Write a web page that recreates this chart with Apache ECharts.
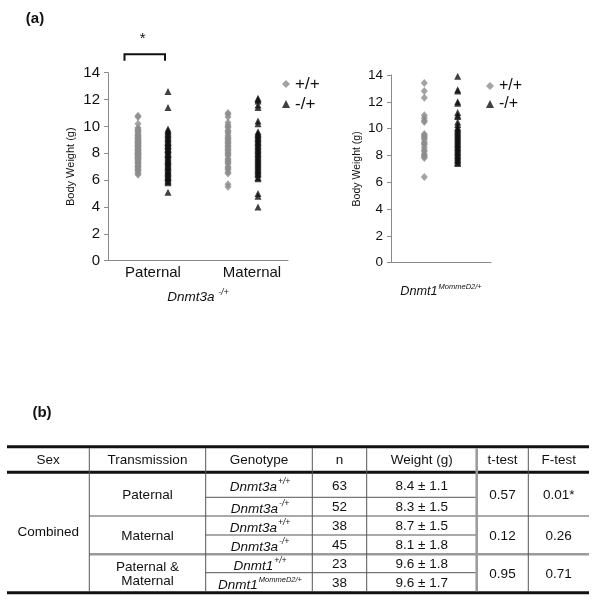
<!DOCTYPE html>
<html><head><meta charset="utf-8">
<script src="https://cdn.jsdelivr.net/npm/echarts@6/dist/echarts.min.js"></script>
<style>html,body{margin:0;padding:0;background:#fff}#c{width:600px;height:605px}</style>
</head><body><div id="c"></div>
<script>
const FONT = "'Liberation Sans', Arial, Helvetica, sans-serif";

// ---------- Panel (a) data ----------
const legendNames = ['+/+', '-/+'];
const leftCategories = ['Paternal', 'Maternal'];
const yTickMax = 14;
const yTickStep = 2;

// Dnmt3a paternal transmission
const paternalWT = [10.8, 10.7, 10.2, 9.9, 9.8, 9.7, 9.6, 9.5, 9.4, 9.3,
  9.2, 9.2, 9.1, 9.0, 9.0, 8.9, 8.9, 8.8, 8.8, 8.7,
  8.7, 8.6, 8.6, 8.5, 8.5, 8.4, 8.4, 8.3, 8.3, 8.2,
  8.2, 8.1, 8.1, 8.0, 8.0, 7.9, 7.9, 7.8, 7.8, 7.7,
  7.7, 7.6, 7.5, 7.5, 7.4, 7.3, 7.3, 7.2, 7.1, 7.0,
  7.0, 6.9, 6.8, 6.8, 6.7, 6.6, 6.5, 6.4, 9.7, 9.3, 8.6, 8.0, 7.6];
const paternalHet = [12.6, 11.4, 9.8, 9.7, 9.6, 9.5, 9.4, 9.2, 9.1, 9.0,
  8.9, 8.8, 8.7, 8.6, 8.5, 8.4, 8.3, 8.2, 8.1, 8.0,
  7.9, 7.8, 7.7, 7.6, 7.5, 7.4, 7.3, 7.2, 7.1, 7.0,
  6.9, 6.8, 6.7, 6.6, 6.5, 6.4, 6.3, 6.2, 6.1, 6.0,
  5.9, 5.8, 5.1, 9.3, 8.8, 8.3, 7.9, 7.4, 7.0, 6.6, 6.2, 8.6];
// Dnmt3a maternal transmission
const maternalWT = [11.0, 10.9, 10.7, 10.1, 10.0, 9.9, 9.7, 9.6, 9.3, 9.2,
  9.0, 8.9, 8.7, 8.6, 8.5, 8.3, 8.2, 8.0, 7.9, 7.8,
  7.6, 7.5, 7.3, 7.2, 7.0, 6.9, 6.8, 6.6, 6.5, 5.7,
  5.5, 9.5, 8.4, 8.1, 7.4, 10.3, 9.1, 8.8];
const maternalHet = [12.1, 12.0, 11.9, 11.6, 11.4, 10.4, 10.2, 9.6, 9.5, 9.4,
  9.3, 9.2, 9.0, 8.9, 8.8, 8.7, 8.6, 8.5, 8.4, 8.3,
  8.2, 8.1, 8.0, 7.9, 7.8, 7.7, 7.6, 7.5, 7.4, 7.3,
  7.2, 7.1, 7.0, 6.9, 6.8, 6.7, 6.6, 6.5, 6.4, 6.2,
  6.1, 5.0, 4.8, 4.0, 9.1];
// Dnmt1 MommeD2
const mommeWT = [13.4, 12.8, 12.3, 11.0, 10.8, 10.6, 10.5, 9.6, 9.5, 9.4,
  9.3, 9.2, 9.0, 8.9, 8.8, 8.6, 8.4, 8.3, 8.1, 8.0, 7.9, 7.8, 6.4];
const mommeHet = [13.9, 12.9, 12.8, 12.0, 11.9, 11.2, 11.0, 10.9, 10.5, 10.3,
  10.1, 10.0, 9.9, 9.8, 9.7, 9.6, 9.5, 9.4, 9.3, 9.2,
  9.1, 9.0, 8.9, 8.8, 8.7, 8.6, 8.5, 8.4, 8.3, 8.2,
  8.1, 8.0, 7.9, 7.8, 7.7, 7.6, 7.5, 7.4];
// significance annotation (x-from, x-to, level) in data units
const sigBracket = [0.55, 1.9, 15.37];
const sigLabel = '*';

// ---------- Panel (b) table data ----------
const tableHeader = ['Sex', 'Transmission', 'Genotype', 'n', 'Weight (g)', 't-test', 'F-test'];
const sexLabel = 'Combined';
const transmission = ['Paternal', 'Maternal', 'Paternal &\nMaternal'];
const genotypeBase = ['Dnmt3a', 'Dnmt3a', 'Dnmt3a', 'Dnmt3a', 'Dnmt1', 'Dnmt1'];
const genotypeSup = ['+/+', '-/+', '+/+', '-/+', '+/+', 'MommeD2/+'];
const nValues = [63, 52, 38, 45, 23, 38];
const weightMean = [8.4, 8.3, 8.7, 8.1, 9.6, 9.6];
const weightSD = [1.1, 1.5, 1.5, 1.8, 1.8, 1.7];
const tTest = ['0.57', '0.12', '0.95'];
const fTest = ['0.01*', '0.26', '0.71'];

// ---------- styles ----------
const GRAY = '#8c8c8c';
const BLACK = '#111111';
const AXIS = '#8a8a8a';

function wtSeries(name, x, vals, gi) {
  return { name, type: 'scatter', xAxisIndex: gi, yAxisIndex: gi,
    data: vals.map(v => [x, v]), symbol: 'diamond', symbolSize: [7, 8],
    itemStyle: { color: GRAY }, silent: true, z: 3 };
}
function hetSeries(name, x, vals, gi) {
  return { name, type: 'scatter', xAxisIndex: gi, yAxisIndex: gi,
    data: vals.map(v => [x, v]), symbol: 'triangle', symbolSize: [7, 7],
    itemStyle: { color: BLACK }, silent: true, z: 4 };
}

function yAxisCfg(gi, labelSize, nameSize, nameGap) {
  return { gridIndex: gi, type: 'value', min: 0, max: yTickMax, interval: yTickStep,
    axisLine: { show: true, lineStyle: { color: AXIS, width: 1 } },
    axisTick: { show: true, inside: false, length: 4, lineStyle: { color: AXIS } },
    splitLine: { show: false },
    axisLabel: { fontSize: labelSize, color: '#111', margin: 8, fontFamily: FONT },
    name: 'Body Weight (g)', nameLocation: 'middle', nameRotate: 90, nameGap: nameGap,
    nameTextStyle: { fontSize: nameSize, color: '#111', fontFamily: FONT } };
}

const supRich = (mainSize, supSize) => ({
  i: { fontStyle: 'italic', fontSize: mainSize, fontFamily: FONT, color: '#111', lineHeight: mainSize + 3, verticalAlign: 'bottom' },
  s: { fontStyle: 'italic', fontSize: supSize, fontFamily: FONT, color: '#111', lineHeight: mainSize + 3, verticalAlign: 'top', padding: [0, 0, 0, 1] }
});

// ---------- table graphic ----------
const colX = [7, 89.3, 205.7, 312.3, 366.7, 476.7, 528.3, 589];
const rowY = [446.7, 472.3, 497.3, 516, 535, 554.3, 572.7, 592.7];
const TFS = 13.5;
const g = [];
function hline(y, x1, x2, w, c) { g.push({ type: 'line', shape: { x1, y1: y, x2, y2: y }, style: { stroke: c, lineWidth: w }, silent: true }); }
function vline(x, y1, y2, w, c) { g.push({ type: 'line', shape: { x1: x, y1, x2: x, y2 }, style: { stroke: c, lineWidth: w }, silent: true }); }
function txt(text, x, y, extra) {
  g.push({ type: 'text', x, y, silent: true,
    style: Object.assign({ text, fill: '#111', fontSize: TFS, fontFamily: FONT, align: 'center', verticalAlign: 'middle' }, extra || {}) });
}
// horizontal rules
hline(rowY[0], colX[0], colX[7], 3, '#111');
hline(rowY[1], colX[0], colX[7], 3, '#111');
hline(rowY[7], colX[0], colX[7], 3, '#111');
[2, 4, 6].forEach(r => hline(rowY[r], colX[2], colX[5], 1, '#555'));
hline(rowY[3], colX[1], colX[7], 1, '#555');
hline(rowY[5], colX[1], colX[7], 2.5, '#9a9a9a');
// vertical rules
[1, 2, 3, 4, 6].forEach(c => vline(colX[c], rowY[0] + 1.5, rowY[7] - 1.5, 1, '#555'));
vline(colX[5], rowY[0] + 1.5, rowY[7] - 1.5, 2.5, '#9a9a9a');
// header
tableHeader.forEach((h, i) => txt(h, (colX[i] + colX[i + 1]) / 2, (rowY[0] + rowY[1]) / 2 + 0.5));
// sex
txt(sexLabel, (colX[0] + colX[1]) / 2, (rowY[1] + rowY[7]) / 2);
// groups
transmission.forEach((t, gi) => {
  const yc = (rowY[2 * gi + 1] + rowY[2 * gi + 3]) / 2 + 1;
  txt(t, (colX[1] + colX[2]) / 2, yc, { lineHeight: 14.5 });
  txt(tTest[gi], (colX[5] + colX[6]) / 2, yc);
  txt(fTest[gi], (colX[6] + colX[7]) / 2, yc);
});
// rows
nValues.forEach((n, r) => {
  const yc = (rowY[r + 1] + rowY[r + 2]) / 2 + 1;
  txt('{i|' + genotypeBase[r] + '}{s|' + genotypeSup[r] + '}', (colX[2] + colX[3]) / 2 + 1, yc,
    { rich: supRich(TFS, genotypeSup[r].length > 4 ? 7.5 : 8.5) });
  txt(String(n), (colX[3] + colX[4]) / 2, yc);
  txt(weightMean[r].toFixed(1) + ' \u00b1 ' + weightSD[r].toFixed(1), (colX[4] + colX[5]) / 2, yc);
});
// panel letters
txt('(a)', 35, 19, { fontWeight: 'bold', fontSize: 15 });
txt('(b)', 42, 413, { fontWeight: 'bold', fontSize: 15 });

const option = {
  animation: false,
  backgroundColor: '#ffffff',
  textStyle: { fontFamily: FONT },
  grid: [
    { left: 108, top: 72.7, width: 180, height: 188 },
    { left: 391, top: 75, width: 100, height: 187.7 }
  ],
  xAxis: [
    { gridIndex: 0, type: 'value', min: 0, max: 6,
      axisLine: { show: true, onZero: false, lineStyle: { color: AXIS, width: 1 } },
      axisTick: { show: false }, splitLine: { show: false },
      axisLabel: { customValues: [1.5, 4.8], formatter: v => (v < 3 ? leftCategories[0] : leftCategories[1]),
        fontSize: 15, color: '#111', margin: 5, fontFamily: FONT },
      name: '{i|Dnmt3a}{s| -/+}', nameLocation: 'middle', nameGap: 27,
      nameTextStyle: { rich: supRich(13.5, 9) } },
    { gridIndex: 1, type: 'value', min: 0, max: 3,
      axisLine: { show: true, onZero: false, lineStyle: { color: AXIS, width: 1 } },
      axisTick: { show: false }, splitLine: { show: false }, axisLabel: { show: false },
      name: '{i|Dnmt1}{s|MommeD2/+}', nameLocation: 'middle', nameGap: 20,
      nameTextStyle: { rich: supRich(12.7, 7.5) } }
  ],
  yAxis: [yAxisCfg(0, 15, 11, 32), yAxisCfg(1, 13.5, 10.5, 28)],
  legend: [
    { left: 277, top: 69, orient: 'vertical', data: legendNames, selectedMode: false,
      itemWidth: 8, itemHeight: 8, itemGap: 0,
      textStyle: { fontSize: 17, lineHeight: 20, color: '#111', fontFamily: FONT } },
    { left: 481, top: 72, orient: 'vertical', data: legendNames, selectedMode: false,
      itemWidth: 8, itemHeight: 8, itemGap: 0,
      textStyle: { fontSize: 16, lineHeight: 18, color: '#111', fontFamily: FONT } }
  ],
  series: [
    wtSeries(legendNames[0], 1, paternalWT, 0),
    hetSeries(legendNames[1], 2, paternalHet, 0),
    wtSeries(legendNames[0], 4, maternalWT, 0),
    hetSeries(legendNames[1], 5, maternalHet, 0),
    wtSeries(legendNames[0], 1, mommeWT, 1),
    hetSeries(legendNames[1], 2, mommeHet, 1),
    { type: 'custom', name: 'significance', xAxisIndex: 0, yAxisIndex: 0, clip: false, silent: true,
      data: [sigBracket],
      renderItem: function (params, api) {
        const y = api.value(2);
        const p1 = api.coord([api.value(0), y]);
        const p2 = api.coord([api.value(1), y]);
        const leg = 6.5;
        return { type: 'group', children: [
          { type: 'polyline', shape: { points: [[p1[0], p1[1] + leg], [p1[0], p1[1]], [p2[0], p2[1]], [p2[0], p2[1] + leg]] },
            style: { stroke: '#111', lineWidth: 2, fill: null } },
          { type: 'text', x: (p1[0] + p2[0]) / 2 - 2, y: p1[1] - 15,
            style: { text: sigLabel, fontSize: 15, fontFamily: FONT, fill: '#111', align: 'center', verticalAlign: 'middle' } }
        ] };
      } }
  ],
  graphic: g
};

const chart = echarts.init(document.getElementById('c'), null, { renderer: 'canvas' });
chart.setOption(option);
</script>
</body></html>
